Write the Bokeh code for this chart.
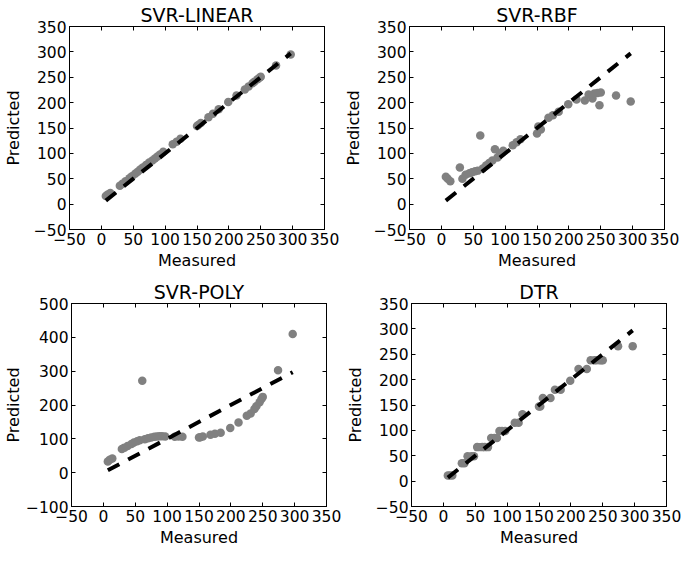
from bokeh.plotting import figure
from bokeh.layouts import column, row
from bokeh.models import LinearAxis, FixedTicker
from bokeh.embed import file_html
from bokeh.resources import INLINE

titles = ["SVR-LINEAR", "SVR-RBF", "SVR-POLY", "DTR"]

measured = [7, 10, 14, 29, 33, 38, 44, 48, 53, 57, 61, 65, 70, 75, 80, 84, 88, 92, 97,
            112, 118, 124, 150, 152, 156, 168, 175, 184, 199, 212, 225, 231, 237, 240,
            245, 248, 250, 274, 297]

pred_linear = [16, 19, 22, 36, 40, 45, 51, 55, 60, 64, 68, 72, 77, 82, 86, 90, 94, 98, 103,
               118, 123, 129, 154, 156, 160, 171, 178, 187, 201, 214, 226, 232, 238, 241,
               246, 249, 251, 273, 295]

pred_rbf = [54, 50, 45, 72, 50, 58, 61, 63, 65, 66, 135, 70, 76, 81, 86, 108, 92, 100, 105,
            116, 122, 128, 139, 153, 147, 170, 175, 182, 197, 206, 204, 216, 208, 218,
            219, 195, 220, 214, 202]

pred_poly = [33, 38, 42, 70, 74, 79, 85, 89, 93, 96, 272, 99, 102, 104, 106, 107, 108, 108, 107,
             106, 107, 106, 104, 105, 107, 112, 115, 118, 132, 148, 168, 175, 188, 196,
             208, 218, 224, 303, 410]

pred_dtr = [11, 11, 11, 35, 35, 49, 49, 49, 67, 67, 67, 67, 67, 85, 85, 85, 99, 99, 99,
            115, 115, 132, 147, 147, 164, 164, 180, 180, 198, 221, 221, 238, 238, 238,
            238, 238, 238, 266, 266]

x_ticks = [-50, 0, 50, 100, 150, 200, 250, 300, 350]
y_ticks_std = [-50, 0, 50, 100, 150, 200, 250, 300, 350]
y_ticks_poly = [-100, 0, 100, 200, 300, 400, 500]

FONT = "DejaVu Sans"


def labels(ticks):
    return {t: str(t).replace("-", "\u2212") for t in ticks}


def style_axis(ax, ticks, show_labels=True):
    ax.ticker = FixedTicker(ticks=ticks)
    ax.major_tick_in = 4
    ax.major_tick_out = 0
    ax.minor_tick_line_color = None
    ax.axis_line_color = "black"
    ax.major_tick_line_color = "black"
    if show_labels:
        ax.major_label_overrides = labels(ticks)
        ax.major_label_text_font = FONT
        ax.major_label_text_font_size = "15.5px"
        ax.major_label_text_color = "black"
        ax.major_label_standoff = 3
        ax.axis_label_text_font = FONT
        ax.axis_label_text_font_size = "16px"
        ax.axis_label_text_font_style = "normal"
        ax.axis_label_text_color = "black"
    else:
        ax.major_label_text_font_size = "1px"
        ax.major_label_text_color = None
        ax.major_label_standoff = 0


def make(title, pred, yr, yticks, right_border, bottom_border, ylab_standoff):
    p = figure(frame_width=255, frame_height=203,
               min_border_left=64, min_border_right=right_border,
               min_border_top=24, min_border_bottom=bottom_border,
               x_range=(-50, 350), y_range=yr,
               output_backend="svg", toolbar_location=None, title=title)
    p.title.align = "center"
    p.title.text_font = FONT
    p.title.text_font_size = "19px"
    p.title.text_font_style = "normal"
    p.title.text_color = "black"
    p.title.standoff = 2
    p.grid.visible = False
    p.outline_line_color = "black"
    p.outline_line_width = 1
    p.background_fill_color = "white"
    p.border_fill_color = "white"

    style_axis(p.xaxis[0], x_ticks)
    style_axis(p.yaxis[0], yticks)
    p.xaxis.axis_label = "Measured"
    p.yaxis.axis_label = "Predicted"
    p.xaxis.axis_label_standoff = 3
    p.yaxis.axis_label_standoff = ylab_standoff

    top = LinearAxis()
    style_axis(top, x_ticks, show_labels=False)
    p.add_layout(top, "above")
    right = LinearAxis()
    style_axis(right, yticks, show_labels=False)
    p.add_layout(right, "right")

    p.scatter(measured, pred, size=8.5, fill_color="#808080", line_color=None)
    lo, hi = min(measured), max(measured)
    p.line([lo, hi], [lo, hi], line_color="black", line_width=4, line_dash="13 10")
    return p


p1 = make(titles[0], pred_linear, (-50, 350), y_ticks_std, 16, 48, 8)
p2 = make(titles[1], pred_rbf, (-50, 350), y_ticks_std, 15, 48, 8)
p3 = make(titles[2], pred_poly, (-100, 500), y_ticks_poly, 16, 43, 0)
p4 = make(titles[3], pred_dtr, (-50, 350), y_ticks_std, 15, 43, 8)

layout = column(row(p1, p2), row(p3, p4))

open("out.html", "w").write(file_html(layout, INLINE))
